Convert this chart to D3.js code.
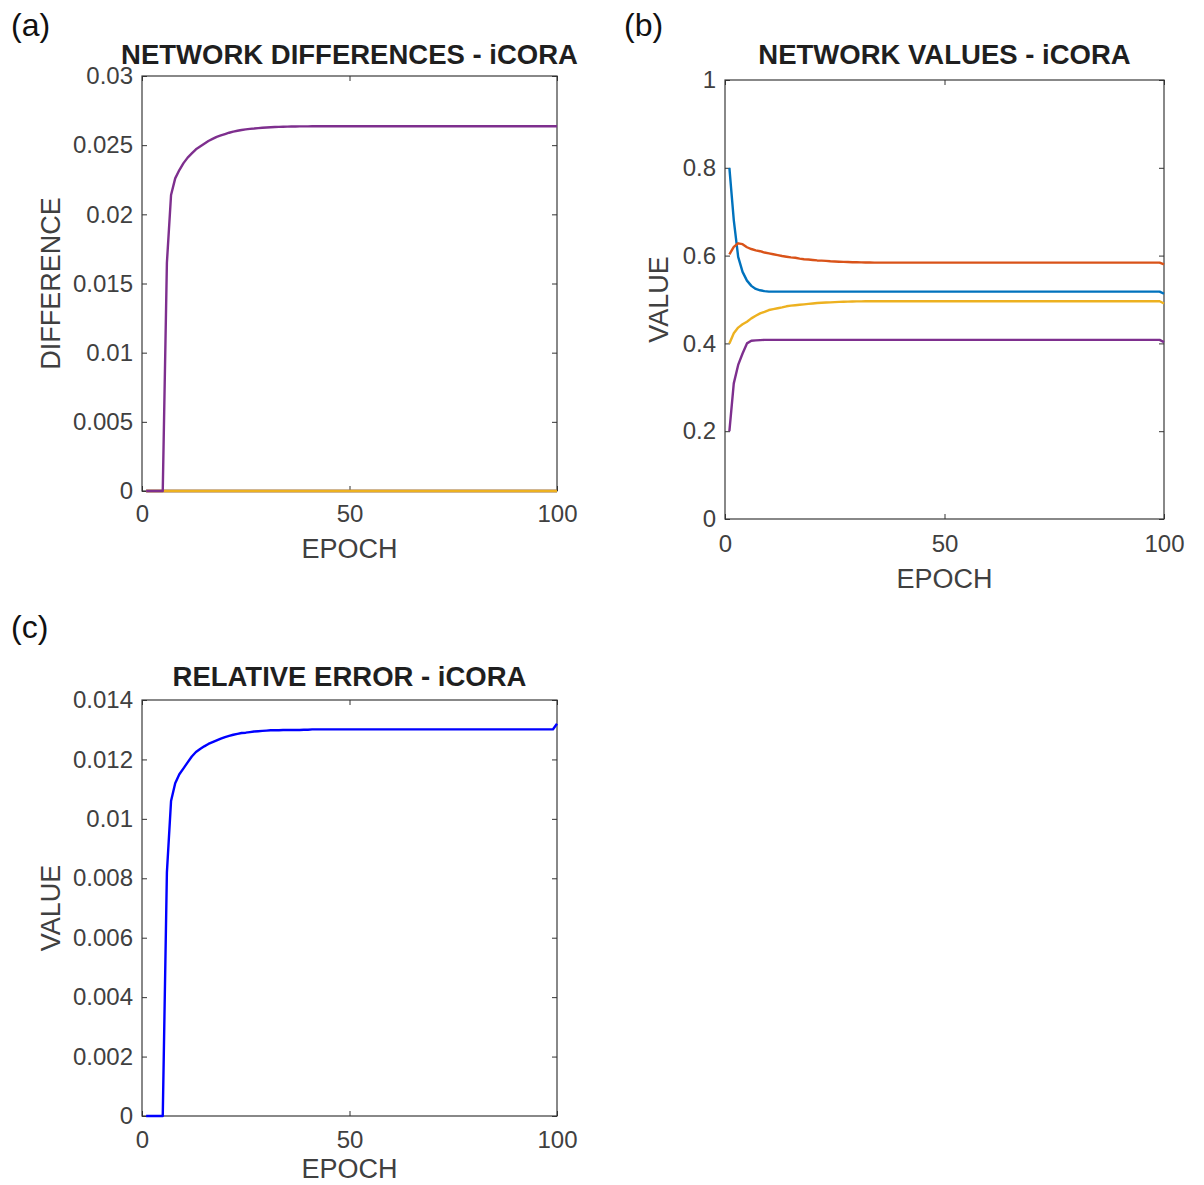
<!DOCTYPE html>
<html>
<head>
<meta charset="utf-8">
<script src="https://cdn.jsdelivr.net/npm/d3@7"></script>
<style>
  body { margin: 0; background: #fff; }
  text { font-family: "Liberation Sans", Arial, Helvetica, sans-serif; }
</style>
</head>
<body>
<div id="fig"></div>
<script>
// x axis: training epochs 1..100
var epochs = d3.range(1, 101);
var xTicks = [0, 50, 100];

// (a) network differences - three series stay at zero, purple one rises
var diffZero = [
  0,0,0,0,0,0,0,0,0,0, 0,0,0,0,0,0,0,0,0,0,
  0,0,0,0,0,0,0,0,0,0, 0,0,0,0,0,0,0,0,0,0,
  0,0,0,0,0,0,0,0,0,0, 0,0,0,0,0,0,0,0,0,0,
  0,0,0,0,0,0,0,0,0,0, 0,0,0,0,0,0,0,0,0,0,
  0,0,0,0,0,0,0,0,0,0, 0,0,0,0,0,0,0,0,0,0
];
var diffPurple = [
  0, 0, 0, 0, 0, 0.0165, 0.0214, 0.0226, 0.0232, 0.0237,
  0.0241, 0.0244, 0.0247, 0.0249, 0.0251, 0.0253, 0.02545, 0.0256, 0.0257, 0.0258,
  0.0259, 0.02598, 0.02604, 0.0261, 0.02614, 0.02618, 0.0262, 0.02623, 0.02626, 0.02628,
  0.0263, 0.02631, 0.02632, 0.02633, 0.02634, 0.02635, 0.02635, 0.02636, 0.02636, 0.02636,
  0.02637, 0.02637, 0.02637, 0.02637, 0.02637, 0.02637, 0.02637, 0.02637, 0.02637, 0.02637,
  0.02637, 0.02637, 0.02637, 0.02637, 0.02637, 0.02637, 0.02637, 0.02637, 0.02637, 0.02637,
  0.02637, 0.02637, 0.02637, 0.02637, 0.02637, 0.02637, 0.02637, 0.02637, 0.02637, 0.02637,
  0.02637, 0.02637, 0.02637, 0.02637, 0.02637, 0.02637, 0.02637, 0.02637, 0.02637, 0.02637,
  0.02637, 0.02637, 0.02637, 0.02637, 0.02637, 0.02637, 0.02637, 0.02637, 0.02637, 0.02637,
  0.02637, 0.02637, 0.02637, 0.02637, 0.02637, 0.02637, 0.02637, 0.02637, 0.02637, 0.02637
];
var diffTicks = [0, 0.005, 0.01, 0.015, 0.02, 0.025, 0.03];

// (b) network values
var valBlue = [
  0.8, 0.681, 0.597, 0.563, 0.543, 0.531, 0.524, 0.521, 0.519, 0.518,
  0.518, 0.518, 0.518, 0.518, 0.518, 0.518, 0.518, 0.518, 0.518, 0.518,
  0.518, 0.518, 0.518, 0.518, 0.518, 0.518, 0.518, 0.518, 0.518, 0.518,
  0.518, 0.518, 0.518, 0.518, 0.518, 0.518, 0.518, 0.518, 0.518, 0.518,
  0.518, 0.518, 0.518, 0.518, 0.518, 0.518, 0.518, 0.518, 0.518, 0.518,
  0.518, 0.518, 0.518, 0.518, 0.518, 0.518, 0.518, 0.518, 0.518, 0.518,
  0.518, 0.518, 0.518, 0.518, 0.518, 0.518, 0.518, 0.518, 0.518, 0.518,
  0.518, 0.518, 0.518, 0.518, 0.518, 0.518, 0.518, 0.518, 0.518, 0.518,
  0.518, 0.518, 0.518, 0.518, 0.518, 0.518, 0.518, 0.518, 0.518, 0.518,
  0.518, 0.518, 0.518, 0.518, 0.518, 0.518, 0.518, 0.518, 0.518, 0.513
];
var valOrange = [
  0.603, 0.62, 0.628, 0.626, 0.619, 0.615, 0.612, 0.61, 0.607, 0.605,
  0.603, 0.601, 0.599, 0.5975, 0.596, 0.595, 0.593, 0.5916, 0.591, 0.59,
  0.589, 0.5885, 0.588, 0.587, 0.5865, 0.586, 0.5857, 0.5853, 0.585, 0.5848,
  0.5846, 0.5844, 0.5842, 0.5841, 0.584, 0.584, 0.584, 0.584, 0.584, 0.584,
  0.584, 0.584, 0.584, 0.584, 0.584, 0.584, 0.584, 0.584, 0.584, 0.584,
  0.584, 0.584, 0.584, 0.584, 0.584, 0.584, 0.584, 0.584, 0.584, 0.584,
  0.584, 0.584, 0.584, 0.584, 0.584, 0.584, 0.584, 0.584, 0.584, 0.584,
  0.584, 0.584, 0.584, 0.584, 0.584, 0.584, 0.584, 0.584, 0.584, 0.584,
  0.584, 0.584, 0.584, 0.584, 0.584, 0.584, 0.584, 0.584, 0.584, 0.584,
  0.584, 0.584, 0.584, 0.584, 0.584, 0.584, 0.584, 0.584, 0.584, 0.58
];
var valYellow = [
  0.4, 0.423, 0.436, 0.4435, 0.4495, 0.457, 0.463, 0.4685, 0.472, 0.476,
  0.478, 0.48, 0.482, 0.4845, 0.486, 0.487, 0.488, 0.489, 0.49, 0.491,
  0.492, 0.4927, 0.493, 0.4935, 0.494, 0.4945, 0.495, 0.4952, 0.4955, 0.4957,
  0.4958, 0.496, 0.496, 0.496, 0.496, 0.496, 0.496, 0.496, 0.496, 0.496,
  0.496, 0.496, 0.496, 0.496, 0.496, 0.496, 0.496, 0.496, 0.496, 0.496,
  0.496, 0.496, 0.496, 0.496, 0.496, 0.496, 0.496, 0.496, 0.496, 0.496,
  0.496, 0.496, 0.496, 0.496, 0.496, 0.496, 0.496, 0.496, 0.496, 0.496,
  0.496, 0.496, 0.496, 0.496, 0.496, 0.496, 0.496, 0.496, 0.496, 0.496,
  0.496, 0.496, 0.496, 0.496, 0.496, 0.496, 0.496, 0.496, 0.496, 0.496,
  0.496, 0.496, 0.496, 0.496, 0.496, 0.496, 0.496, 0.496, 0.496, 0.491
];
var valPurple = [
  0.2, 0.309, 0.351, 0.377, 0.4, 0.406, 0.407, 0.4075, 0.408, 0.408,
  0.408, 0.408, 0.408, 0.408, 0.408, 0.408, 0.408, 0.408, 0.408, 0.408,
  0.408, 0.408, 0.408, 0.408, 0.408, 0.408, 0.408, 0.408, 0.408, 0.408,
  0.408, 0.408, 0.408, 0.408, 0.408, 0.408, 0.408, 0.408, 0.408, 0.408,
  0.408, 0.408, 0.408, 0.408, 0.408, 0.408, 0.408, 0.408, 0.408, 0.408,
  0.408, 0.408, 0.408, 0.408, 0.408, 0.408, 0.408, 0.408, 0.408, 0.408,
  0.408, 0.408, 0.408, 0.408, 0.408, 0.408, 0.408, 0.408, 0.408, 0.408,
  0.408, 0.408, 0.408, 0.408, 0.408, 0.408, 0.408, 0.408, 0.408, 0.408,
  0.408, 0.408, 0.408, 0.408, 0.408, 0.408, 0.408, 0.408, 0.408, 0.408,
  0.408, 0.408, 0.408, 0.408, 0.408, 0.408, 0.408, 0.408, 0.408, 0.403
];
var valTicks = [0, 0.2, 0.4, 0.6, 0.8, 1];

// (c) relative error
var relErr = [
  0, 0, 0, 0, 0, 0.0082, 0.0106, 0.0112, 0.0115, 0.0117,
  0.0119, 0.0121, 0.01225, 0.01235, 0.01244, 0.01252, 0.01258, 0.01264, 0.0127, 0.01275,
  0.01279, 0.01283, 0.01286, 0.01289, 0.0129, 0.01292, 0.01294, 0.01295, 0.01296, 0.01297,
  0.01298, 0.01298, 0.01298, 0.01299, 0.01299, 0.01299, 0.01299, 0.01299, 0.013, 0.013,
  0.01301, 0.01301, 0.01301, 0.01301, 0.01301, 0.01301, 0.01301, 0.01301, 0.01301, 0.01301,
  0.01301, 0.01301, 0.01301, 0.01301, 0.01301, 0.01301, 0.01301, 0.01301, 0.01301, 0.01301,
  0.01301, 0.01301, 0.01301, 0.01301, 0.01301, 0.01301, 0.01301, 0.01301, 0.01301, 0.01301,
  0.01301, 0.01301, 0.01301, 0.01301, 0.01301, 0.01301, 0.01301, 0.01301, 0.01301, 0.01301,
  0.01301, 0.01301, 0.01301, 0.01301, 0.01301, 0.01301, 0.01301, 0.01301, 0.01301, 0.01301,
  0.01301, 0.01301, 0.01301, 0.01301, 0.01301, 0.01301, 0.01301, 0.01301, 0.01301, 0.0132
];
var errTicks = [0, 0.002, 0.004, 0.006, 0.008, 0.01, 0.012, 0.014];

// matlab default colour order
var colors = { blue: "#0072BD", orange: "#D95319", yellow: "#EDB120", purple: "#7E2F8E", pure: "#0000FF" };

var svg = d3.select("#fig").append("svg")
    .attr("width", 1204)
    .attr("height", 1185);

var tickColor = "#404040";
var fmt = function(d) { return d === 0 ? "0" : String(+d.toFixed(4)); };

function drawPanel(cfg) {
    var w = cfg.right - cfg.left, h = cfg.bottom - cfg.top;
    var x = d3.scaleLinear().domain([0, 100]).range([0, w]);
    var y = d3.scaleLinear().domain(cfg.yDomain).range([h, 0]);

    var g = svg.append("g")
        .attr("transform", "translate(" + cfg.left + "," + cfg.top + ")");

    // box first so the data lines sit on top of it
    g.append("rect")
        .attr("width", w).attr("height", h)
        .style("fill", "none")
        .style("stroke", "#3a3a3a")
        .style("stroke-width", 1.2);

    // axes with inward ticks, mirrored on top/right (box on)
    var bottom = g.append("g").attr("transform", "translate(0," + h + ")")
        .call(d3.axisBottom(x).tickValues(xTicks).tickSize(-5).tickSizeOuter(0).tickPadding(cfg.xPad).tickFormat(fmt));
    var left = g.append("g")
        .call(d3.axisLeft(y).tickValues(cfg.yTicks).tickSize(-5).tickSizeOuter(0).tickPadding(9).tickFormat(fmt));
    g.append("g")
        .call(d3.axisTop(x).tickValues(xTicks).tickSize(-5).tickSizeOuter(0).tickFormat(""));
    g.append("g").attr("transform", "translate(" + w + ",0)")
        .call(d3.axisRight(y).tickValues(cfg.yTicks).tickSize(-5).tickSizeOuter(0).tickFormat(""));

    g.selectAll(".domain").remove();
    g.selectAll(".tick line").style("stroke", "#333").style("stroke-width", 1);
    [bottom, left].forEach(function(a) {
        a.selectAll("text")
          .style("font-size", "24px")
          .style("fill", tickColor);
    });

    var clipId = "clip-" + cfg.tag.replace(/[()]/g, "");
    g.append("clipPath").attr("id", clipId)
      .append("rect").attr("x", -2).attr("y", -2).attr("width", w + 4).attr("height", h + 4);

    var line = d3.line()
        .x(function(d, i) { return x(epochs[i]); })
        .y(function(d) { return y(d); });

    g.append("g").attr("clip-path", "url(#" + clipId + ")")
      .selectAll("path")
      .data(cfg.series)
      .enter()
      .append("path")
        .attr("d", function(s) { return line(s.values); })
        .style("fill", "none")
        .style("stroke", function(s) { return s.color; })
        .style("stroke-width", 2.4)
        .style("stroke-linejoin", "round");

    // title and labels
    g.append("text")
        .attr("x", w / 2).attr("y", cfg.titleY - cfg.top)
        .attr("text-anchor", "middle")
        .style("font-size", "27.5px").style("font-weight", "bold").style("fill", "#1f1f1f")
        .text(cfg.title);

    g.append("text")
        .attr("x", w / 2).attr("y", h + cfg.xLabelOff)
        .attr("text-anchor", "middle")
        .style("font-size", "27px").style("fill", tickColor)
        .text("EPOCH");

    g.append("text")
        .attr("transform", "translate(" + (-cfg.yLabelOff) + "," + (h / 2) + ") rotate(-90)")
        .attr("text-anchor", "middle")
        .style("font-size", "27px").style("fill", tickColor)
        .text(cfg.yLabel);

    svg.append("text")
        .attr("x", cfg.tagX).attr("y", cfg.tagY)
        .style("font-size", "32px").style("fill", "#111")
        .text(cfg.tag);
}

drawPanel({
    tag: "(a)", tagX: 11, tagY: 36,
    left: 142, right: 557, top: 76, bottom: 491,
    yDomain: [0, 0.03], yTicks: diffTicks,
    title: "NETWORK DIFFERENCES - iCORA", titleY: 64,
    yLabel: "DIFFERENCE", yLabelOff: 82, xLabelOff: 67, xPad: 14,
    series: [
        { values: diffZero, color: colors.blue },
        { values: diffZero, color: colors.orange },
        { values: diffZero, color: colors.yellow },
        { values: diffPurple, color: colors.purple }
    ]
});

drawPanel({
    tag: "(b)", tagX: 624, tagY: 36,
    left: 725, right: 1164, top: 80, bottom: 519,
    yDomain: [0, 1], yTicks: valTicks,
    title: "NETWORK VALUES - iCORA", titleY: 64,
    yLabel: "VALUE", yLabelOff: 57, xLabelOff: 69, xPad: 16,
    series: [
        { values: valBlue, color: colors.blue },
        { values: valOrange, color: colors.orange },
        { values: valYellow, color: colors.yellow },
        { values: valPurple, color: colors.purple }
    ]
});

drawPanel({
    tag: "(c)", tagX: 11, tagY: 638,
    left: 142, right: 557, top: 700, bottom: 1116,
    yDomain: [0, 0.014], yTicks: errTicks,
    title: "RELATIVE ERROR - iCORA", titleY: 686,
    yLabel: "VALUE", yLabelOff: 82, xLabelOff: 62, xPad: 15,
    series: [
        { values: relErr, color: colors.pure }
    ]
});
</script>
</body>
</html>
